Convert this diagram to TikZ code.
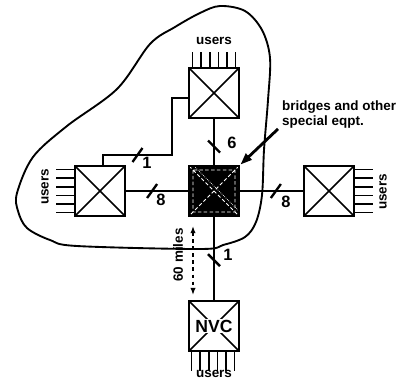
\documentclass[tikz,border=0pt]{standalone}
\usepackage{fontspec}
\setmainfont{Liberation Sans}
\usetikzlibrary{arrows.meta}

\begin{document}
\begin{tikzpicture}[x=0.03cm, y=-0.03cm,
    swbox/.style={draw, line width=2.4pt, minimum size=1.5cm, inner sep=0pt, fill=white,
      path picture={\draw[line width=1.3pt] (path picture bounding box.north west) -- (path picture bounding box.south east)
        (path picture bounding box.north east) -- (path picture bounding box.south west);}},
    hubbox/.style={draw, line width=2.4pt, minimum size=1.5cm, inner sep=0pt, fill=black,
      path picture={\draw[white, densely dashed, line width=0.8pt] (path picture bounding box.north west) -- (path picture bounding box.south east)
        (path picture bounding box.north east) -- (path picture bounding box.south west)
        ([shift={(4,4)}]path picture bounding box.north west) rectangle ([shift={(-4,-4)}]path picture bounding box.south east);
        \draw[white, densely dotted, line width=0.6pt] ([shift={(5,0)}]path picture bounding box.north west) -- ([shift={(0,-5)}]path picture bounding box.south east);}},
    link/.style={line width=2.4pt},
    tickln/.style={line width=2pt},
    userln/.style={line width=1.3pt},
    lbl/.style={font=\fontsize{11.5}{13.6}\selectfont\bfseries},
    num/.style={font=\fontsize{14}{16}\selectfont\bfseries},
    blob/.style={line width=1.6pt}]
    \useasboundingbox (0,0) rectangle (400,381);

    % the region round the local part of the net
    \draw[blob] plot[smooth cycle, tension=0.55] coordinates {(33,157) (17,193) (18,211) (27,228) (50,240) (77,246)
        (200,249) (223,245) (245,237) (256,222) (262,195) (264,150) (268,100) (270,58) (262,30) (245,11)
        (220,6) (200,13) (175,27) (150,44) (117,89) (67,126)};

    % switches
    \node[swbox] (top) at (214,93) {};
    \node[hubbox] (ctr) at (214,191) {};
    \node[swbox] (left) at (100,191) {};
    \node[swbox] (right) at (329,191) {};
    \node[swbox] (nvc) at (214,326) {};
    \node[fill=white, inner sep=1pt, font=\fontsize{15}{17}\selectfont\bfseries] (nvctxt) at (nvc.center) {NVC};

    % user lines
    \foreach \i in {0,...,5} {
        \draw[userln] ([shift={(5+8.6*\i,0)}]top.north west) -- ++(0,-15);
        \draw[userln] ([shift={(0,5+8.6*\i)}]left.north west) -- ++(-18,0);
        \draw[userln] ([shift={(0,5+8.6*\i)}]right.north east) -- ++(18,0);
        \draw[userln] ([shift={(4+8.6*\i,0)}]nvc.south west) -- ++(0,19);
    }
    \node[lbl] (utop) at (214,41) {users};
    \node[lbl, rotate=90] (uleft) at (45,187) {users};
    \node[lbl, rotate=90] (uright) at (383,192) {users};
    \node[lbl] (unvc) at (214,374) {users};

    % trunks
    \draw[link] (top) -- coordinate[pos=0.6] (tk6) (ctr);
    \draw[link] (left) -- coordinate[pos=0.42] (tk8a) (ctr);
    \draw[link] (ctr) -- coordinate[pos=0.57] (tk8b) (right);
    \draw[link] (ctr) -- coordinate[pos=0.52] (tk1b) (nvc);
    \draw[link] ([yshift=-0.15cm]top.west) -| (172,155) -| coordinate[pos=0.25] (tk1a) ([xshift=0.09cm]left.north);

    \draw[tickln] (tk6) +(-6,-6) -- +(6,6);
    \draw[tickln] (tk1b) +(-6,-6) -- +(6,6);
    \draw[tickln] (tk8a) +(-5,7) -- +(5,-7);
    \draw[tickln] (tk8b) +(-5,7) -- +(5,-7);
    \draw[tickln] (tk1a) +(-5,7) -- +(5,-7);

    \node[num] (n6) at (232,143) {6};
    \node[num] (n1b) at (228,255) {1};
    \node[num] (n8a) at (161,200) {8};
    \node[num] (n8b) at (286,202) {8};
    \node[num] (n1a) at (147,163) {1};

    % distance to the NVC
    \coordinate (dtop) at (193,226);
    \coordinate (dbot) at (193,295);
    \draw[dashed, line width=1.3pt, {Latex[length=6pt]}-{Latex[length=6pt]}] (dtop) -- (dbot);
    \node[lbl, rotate=90] (miles) at (178,255) {60 miles};

    \node[lbl, align=left, anchor=north west, inner sep=0pt] (eqpt) at (282,100) {bridges and other\\special eqpt.};
    \draw[link, -{Triangle[length=10pt, width=7pt]}] ([shift={(-4,0)}]eqpt.south west) -- (ctr.north east);
\end{tikzpicture}
\end{document}
